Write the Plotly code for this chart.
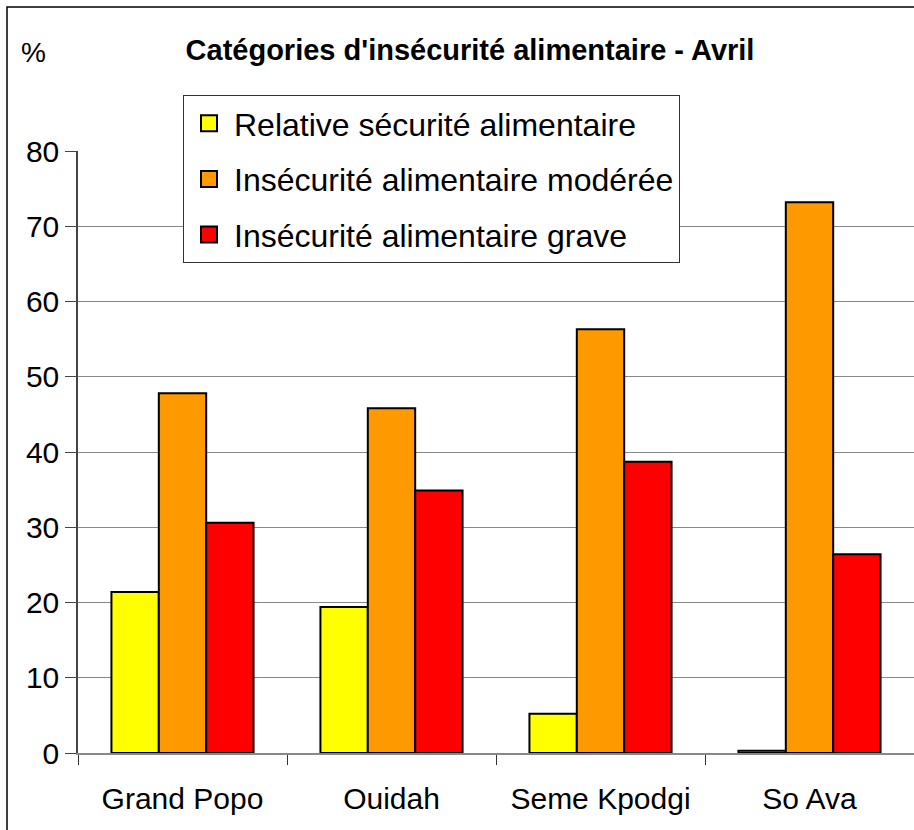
import plotly.graph_objects as go

categories = ["Grand Popo", "Ouidah", "Seme Kpodgi", "So Ava"]
relative_securite = [21.4, 19.4, 5.2, 0.3]
insecurite_moderee = [47.8, 45.8, 56.3, 73.2]
insecurite_grave = [30.6, 34.9, 38.7, 26.4]
series_names = ["Relative sécurité alimentaire",
                "Insécurité alimentaire modérée",
                "Insécurité alimentaire grave"]
colors = ["#FFFF00", "#FF9900", "#FF0000"]
y_ticks = [0, 10, 20, 30, 40, 50, 60, 70, 80]

FONT = "Liberation Sans, Arial, sans-serif"
W, H = 914, 830
ML, MR, MT, MB = 78, 0, 151, 77
pw = W - ML - MR
ph = H - MT - MB

fig = go.Figure()
for name, vals, col in zip(series_names, [relative_securite, insecurite_moderee, insecurite_grave], colors):
    fig.add_trace(go.Bar(x=categories, y=vals, name=name, marker_color=col,
                         marker_line=dict(color="black", width=2), showlegend=False))
# legend entries
for i, (name, col) in enumerate(zip(series_names, colors)):
    fig.add_trace(go.Scatter(x=[None], y=[None], mode="markers", name=name,
                             legendgroup=f"g{i}",
                             marker=dict(symbol="square", size=18, color=col,
                                         line=dict(color="black", width=2))))

fig.update_layout(
    width=W, height=H,
    margin=dict(l=ML, r=MR, t=MT, b=MB, pad=0),
    paper_bgcolor="white", plot_bgcolor="white",
    font=dict(family=FONT, color="black", size=30),
    barmode="group", bargap=0.32, bargroupgap=0,
    title=dict(text="<b>Catégories d'insécurité alimentaire - Avril</b>",
               x=470 / W, xanchor="center", y=1 - 50 / H, yanchor="middle",
               font=dict(size=29, family=FONT, color="black")),
    legend=dict(x=(183 - ML) / pw, y=(H - MB - 95) / ph, xanchor="left", yanchor="top",
                bordercolor="#333333", borderwidth=1, bgcolor="white",
                font=dict(size=32, family=FONT), tracegroupgap=11,
                itemwidth=40),
    showlegend=True,
)
fig.update_yaxes(range=[0, 80], tickvals=y_ticks, showgrid=True, gridcolor="#888888", gridwidth=1.3,
                 showline=True, linecolor="#444444", linewidth=1.5,
                 ticks="outside", ticklen=11, tickcolor="#444444", tickwidth=1.3,
                 tickfont=dict(size=30), zeroline=False, fixedrange=True)
fig.update_xaxes(showline=True, linecolor="#888888", linewidth=1.5,
                 ticks="outside", tickson="boundaries", ticklen=10, tickcolor="#333333", tickwidth=1,
                 tickfont=dict(size=30), ticklabelstandoff=18, fixedrange=True)

fig.add_annotation(text="%", xref="paper", yref="paper", x=(33 - ML) / pw, y=(H - MB - 52) / ph,
                   showarrow=False, font=dict(size=28), xanchor="center", yanchor="middle")
fig.add_shape(type="rect", xref="paper", yref="paper",
              x0=(7 - ML) / pw, x1=1.2, y0=-0.3, y1=(H - MB - 7) / ph,
              line=dict(color="black", width=1.5), fillcolor="rgba(0,0,0,0)", layer="above")

fig.write_html("out.html", config={"displayModeBar": False},
               post_script="document.body.style.margin='0';")
